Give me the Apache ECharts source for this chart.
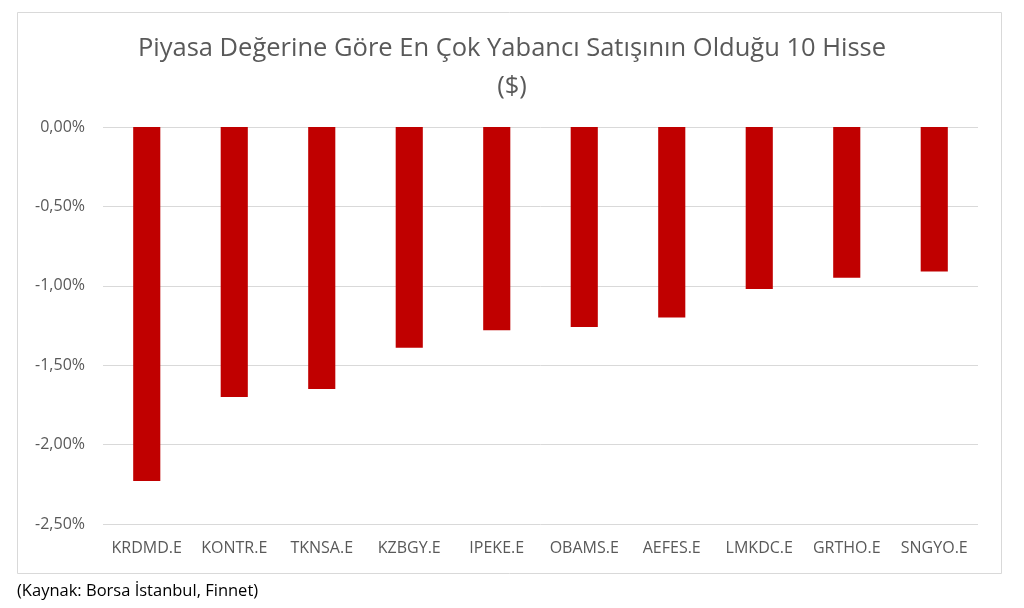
<!DOCTYPE html>
<html>
<head>
<meta charset="utf-8">
<script src="https://cdn.jsdelivr.net/npm/echarts@6/dist/echarts.min.js"></script>
<style>html,body{margin:0;padding:0;background:#fff}#c{width:1024px;height:608px}</style>
</head>
<body>
<div id="c"></div>
<script>
const categories = ['KRDMD.E','KONTR.E','TKNSA.E','KZBGY.E','IPEKE.E','OBAMS.E','AEFES.E','LMKDC.E','GRTHO.E','SNGYO.E'];
const values = [-2.23, -1.70, -1.65, -1.39, -1.28, -1.26, -1.20, -1.02, -0.95, -0.91];
const titleText = 'Piyasa Değerine Göre En Çok Yabancı Satışının Olduğu 10 Hisse\n($)';
const sourceText = '(Kaynak: Borsa İstanbul, Finnet)';

const chart = echarts.init(document.getElementById('c'));
const font = '"Open Sans", sans-serif';
chart.setOption({
  animation: false,
  backgroundColor: '#fff',
  title: {
    text: titleText,
    left: 'center',
    top: 25,
    textStyle: { fontFamily: font, fontSize: 25.5, fontWeight: 'normal', color: '#595959', lineHeight: 38 }
  },
  graphic: [
    { type: 'rect', shape: { x: 17.5, y: 12.5, width: 984, height: 561 }, style: { fill: 'none', stroke: '#d9d9d9', lineWidth: 1 }, silent: true },
    { type: 'text', left: 17, top: 583, style: { text: sourceText, font: '16.5px "Open Sans", sans-serif', fill: '#000' } }
  ],
  grid: { left: 103, right: 46, top: 127, bottom: 84 },
  xAxis: {
    type: 'category',
    data: categories,
    position: 'bottom',
    axisLine: { show: false },
    axisTick: { show: false },
    axisLabel: { fontFamily: font, fontSize: 16, color: '#595959', margin: 16, interval: 0 }
  },
  yAxis: {
    type: 'value',
    min: -2.5,
    max: 0,
    interval: 0.5,
    axisLine: { show: false },
    axisTick: { show: false },
    splitLine: { lineStyle: { color: '#d9d9d9', width: 1 } },
    axisLabel: {
      fontFamily: font, fontSize: 16, color: '#595959', margin: 18,
      formatter: v => v.toFixed(2).replace('.', ',') + '%'
    }
  },
  series: [{
    type: 'bar',
    data: values,
    barWidth: '31%',
    itemStyle: { color: '#C00000' }
  }]
});
</script>
</body>
</html>
